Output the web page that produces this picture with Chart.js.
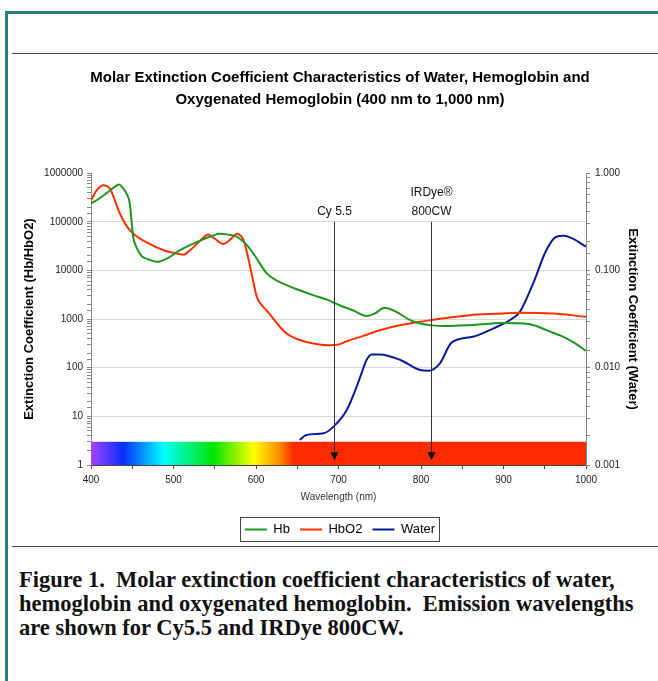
<!DOCTYPE html>
<html>
<head>
<meta charset="utf-8">
<script src="https://cdn.jsdelivr.net/npm/chart.js@4.4.0/dist/chart.umd.min.js"></script>
<style>
  html, body { margin: 0; padding: 0; background: #fff; }
  body { width: 658px; height: 681px; position: relative; overflow: hidden; }
  #frame { position: absolute; left: 5px; top: 11px; width: 700px; height: 700px;
           border-left: 3px solid #2a7f78; border-top: 3px solid #2a7f78; }
  .rule { position: absolute; left: 12px; right: 0; height: 1px; background: #444; }
  #chart { position: absolute; left: 0; top: 0; }
  #caption { position: absolute; left: 19px; top: 568px; font-family: "Liberation Serif", serif;
             font-weight: bold; font-size: 22.5px; line-height: 24px; color: #111; white-space: nowrap; }
</style>
</head>
<body>
<div id="frame"></div>
<div class="rule" style="top:53px"></div>
<canvas id="chart" width="658" height="546"></canvas>
<div class="rule" style="top:546px"></div>
<div id="caption">Figure 1.&nbsp; Molar extinction coefficient characteristics of water,<br>hemoglobin and oxygenated hemoglobin.&nbsp; Emission wavelengths<br>are shown for Cy5.5 and IRDye 800CW.</div>

<script>
// -----------------------------
// DATA
// -----------------------------
const hbWavelength = [400, 410, 420, 430, 434, 438, 443, 447, 449, 451, 455, 461, 467, 480, 492, 508, 528, 548, 556, 565,
  577, 589, 597, 613, 625, 637, 653, 669, 686, 702, 718, 734, 744, 756, 770, 787, 799, 811, 830, 859,
  900, 925, 940, 952, 970, 985, 1000];
const hbValue = [236000, 300000, 400000, 540000, 585000, 510000, 380000, 240000, 110000, 50000, 30000, 20000, 17500, 15000, 17500, 26000, 38000, 52000, 57000, 55000,
  49000, 33000, 22000, 8700, 6200, 5000, 3900, 3100, 2500, 1900, 1500, 1160, 1300, 1700, 1400, 950, 810, 750, 720, 750,
  830, 810, 720, 590, 450, 330, 222];

const hbo2Wavelength = [400, 407, 415, 423, 429, 435, 447, 467, 488, 505, 512, 520, 532, 542, 550, 560, 570, 577, 581, 585,
  593, 601, 607, 613, 629, 637, 653, 669, 686, 700, 710, 730, 750, 770, 791, 799, 830, 859, 890, 920,
  960, 1000];
const hbo2Value = [275000, 445000, 565000, 480000, 275000, 148000, 67000, 38000, 26000, 22000, 21000, 26000, 40000, 55000, 45000, 35000, 45000, 57000, 52000, 42000,
  11800, 2850, 1930, 1500, 690, 505, 370, 316, 290, 300, 350, 450, 590, 720, 840, 880, 1050, 1200, 1280, 1340,
  1300, 1110];

const waterWavelength = [653, 661, 682, 694, 710, 722, 728, 734, 740, 750, 775, 799, 809, 823, 837, 863, 888, 908, 920, 936,
  952, 964, 973, 985, 1000];
const waterValue = [0.00181, 0.00203, 0.00212, 0.00248, 0.00367, 0.00638, 0.0088, 0.0120, 0.0137, 0.0137, 0.0120, 0.00946, 0.0093, 0.0111, 0.0181, 0.0208, 0.0254, 0.0309, 0.0377, 0.0737,
  0.162, 0.222, 0.227, 0.21, 0.175];

// emission markers (dyes)
const markerWavelength = [694, 812];
const markerLabel = [['Cy 5.5'], ['IRDye\u00AE', '800CW']];
const markerTop = 100000;
const markerTip = 1.25;

// visible spectrum strip along the bottom
const spectrumWavelength = [400, 439, 488, 548, 597, 629, 645, 1000];
const spectrumColor = ['#a545ff', '#0a2cff', '#00ffff', '#00e400', '#ffff00', '#ff8a00', '#ff2a00', '#ff2a00'];
const spectrumTop = 3;

const xTicks = [400, 500, 600, 700, 800, 900, 1000];

// -----------------------------
// HELPERS
// -----------------------------
const FONT = '"Liberation Sans", Arial, sans-serif';
Chart.defaults.font.family = FONT;
Chart.defaults.color = '#222';

const toPoints = (xs, ys) => xs.map((x, i) => ({ x, y: ys[i] }));
const isDecade = v => Math.abs(Math.log10(v) - Math.round(Math.log10(v))) < 1e-6;

// -----------------------------
// OVERLAY PLUGIN (spectrum, arrows, legend frame)
// -----------------------------
const overlay = {
  id: 'overlay',
  afterDatasetsDraw(chart) {
    const { ctx, scales: { x, y } } = chart;
    ctx.save();

    // spectrum strip
    const x0 = x.getPixelForValue(spectrumWavelength[0]);
    const x1 = x.getPixelForValue(spectrumWavelength[spectrumWavelength.length - 1]);
    const grad = ctx.createLinearGradient(x0, 0, x1, 0);
    spectrumWavelength.forEach((w, i) => {
      grad.addColorStop((w - spectrumWavelength[0]) / (spectrumWavelength[spectrumWavelength.length - 1] - spectrumWavelength[0]), spectrumColor[i]);
    });
    const top = y.getPixelForValue(spectrumTop);
    const bottom = y.getPixelForValue(1);
    ctx.fillStyle = grad;
    ctx.fillRect(x0, top, x1 - x0, bottom - top);

    // arrows
    ctx.strokeStyle = '#333';
    ctx.lineWidth = 1;
    markerWavelength.forEach((w, i) => {
      const px = Math.round(x.getPixelForValue(w)) + 0.5;
      const yTop = y.getPixelForValue(markerTop);
      const yTip = y.getPixelForValue(markerTip);
      ctx.beginPath();
      ctx.moveTo(px, yTop);
      ctx.lineTo(px, yTip - 6);
      ctx.stroke();
      ctx.fillStyle = '#111';
      ctx.beginPath();
      ctx.moveTo(px - 4, yTip - 8);
      ctx.lineTo(px + 4, yTip - 8);
      ctx.lineTo(px, yTip);
      ctx.closePath();
      ctx.fill();

      ctx.font = '12px ' + FONT;
      ctx.textAlign = 'center';
      ctx.textBaseline = 'middle';
      const lines = markerLabel[i];
      lines.forEach((t, k) => {
        ctx.fillText(t, px, yTop - 10 - (lines.length - 1 - k) * 19);
      });
    });
    ctx.restore();
  },
  afterDraw(chart) {
    const boxes = chart.legend && chart.legend.legendHitBoxes;
    if (!boxes || !boxes.length) return;
    const { ctx } = chart;
    const l = Math.min(...boxes.map(b => b.left)) - 5;
    const r = Math.max(...boxes.map(b => b.left + b.width)) + 4;
    const t = Math.min(...boxes.map(b => b.top)) - 6;
    const btm = Math.max(...boxes.map(b => b.top + b.height)) + 5;
    ctx.save();
    ctx.strokeStyle = '#444';
    ctx.lineWidth = 1;
    ctx.strokeRect(Math.round(l) + 0.5, Math.round(t) + 0.5, Math.round(r - l), Math.round(btm - t));
    ctx.restore();
  }
};

// -----------------------------
// CHART
// -----------------------------
const lineStyle = color => ({
  borderColor: color,
  backgroundColor: color,
  borderWidth: 2,
  pointRadius: 0,
  cubicInterpolationMode: 'monotone',
  fill: false
});

new Chart(document.getElementById('chart'), {
  type: 'line',
  data: {
    datasets: [
      { label: 'Hb', data: toPoints(hbWavelength, hbValue), yAxisID: 'y', ...lineStyle('#1e961e') },
      { label: 'HbO2', data: toPoints(hbo2Wavelength, hbo2Value), yAxisID: 'y', ...lineStyle('#ff3000') },
      { label: 'Water', data: toPoints(waterWavelength, waterValue), yAxisID: 'y2', ...lineStyle('#0a1a96') }
    ]
  },
  plugins: [overlay],
  options: {
    responsive: false,
    animation: false,
    devicePixelRatio: 1,
    layout: { padding: { left: 22, right: 0, top: 67, bottom: 0 } },
    plugins: {
      title: {
        display: true,
        text: ['Molar Extinction Coefficient Characteristics of Water, Hemoglobin and',
               'Oxygenated Hemoglobin (400 nm to 1,000 nm)'],
        color: '#000',
        font: { size: 15, weight: 'bold', lineHeight: 1.47 },
        padding: { top: 0, bottom: 62 }
      },
      legend: {
        position: 'bottom',
        labels: {
          color: '#000',
          font: { size: 13 },
          boxWidth: 22,
          boxHeight: 2,
          padding: 10,
          generateLabels(chart) {
            return Chart.defaults.plugins.legend.labels.generateLabels(chart).map(item => {
              item.lineWidth = 0;
              item.fillStyle = item.strokeStyle;
              return item;
            });
          }
        }
      },
      tooltip: { enabled: false }
    },
    scales: {
      x: {
        type: 'linear',
        min: 400,
        max: 1000,
        z: 1,
        ticks: {
          stepSize: 50,
          autoSkip: false,
          maxRotation: 0,
          padding: 5,
          color: '#222',
          font: { size: 10 },
          callback: v => (xTicks.includes(v) ? String(v) : '')
        },
        grid: { drawOnChartArea: false, tickLength: 4, tickColor: '#444' },
        border: { color: '#444' },
        title: { display: true, text: 'Wavelength (nm)', color: '#333', font: { size: 10 }, padding: { top: 2, bottom: 10 } },
        afterFit: s => { s.height = 48; }
      },
      y: {
        type: 'logarithmic',
        position: 'left',
        min: 1,
        max: 1000000,
        ticks: {
          autoSkip: false,
          padding: 4,
          color: '#222',
          font: { size: 10 },
          callback: v => (isDecade(v) ? String(Math.round(v)) : '')
        },
        grid: {
          tickLength: 4,
          tickColor: '#888',
          color: c => (c.tick && isDecade(c.tick.value) && c.tick.value > 1 && c.tick.value < 1000000) ? '#d9d9d9' : 'rgba(0,0,0,0)'
        },
        border: { color: '#888' },
        title: { display: true, text: 'Extinction Coefficient (Hb/HbO2)', color: '#000', font: { size: 13, weight: 'bold' }, padding: { top: 0, bottom: 0 } },
        afterFit: s => { s.width = 69; }
      },
      y2: {
        type: 'logarithmic',
        position: 'right',
        min: 0.001,
        max: 1,
        ticks: {
          autoSkip: false,
          padding: 5,
          color: '#222',
          font: { size: 10 },
          callback: v => (isDecade(v) ? v.toFixed(3) : '')
        },
        grid: { drawOnChartArea: false, tickLength: 4, tickColor: '#888' },
        border: { color: '#888' },
        title: { display: true, text: 'Extinction Coefficient (Water)', color: '#000', font: { size: 13, weight: 'bold' }, padding: { top: 18, bottom: 0 } },
        afterFit: s => { s.width = 72; }
      }
    }
  }
});
</script>
</body>
</html>
